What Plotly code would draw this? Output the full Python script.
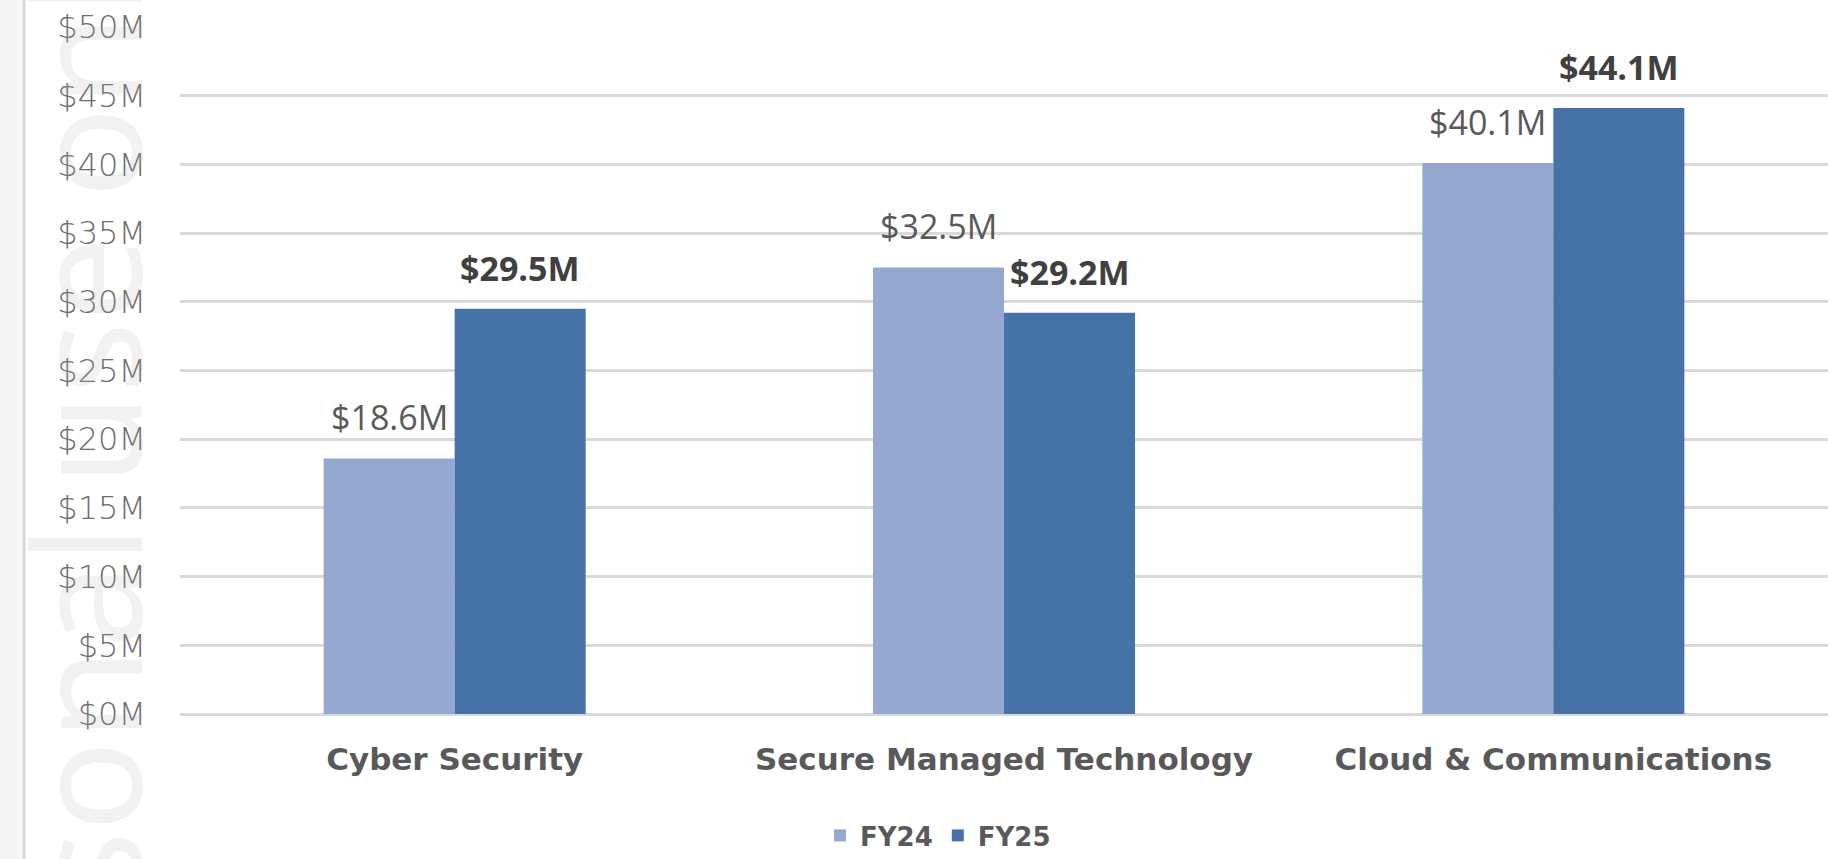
import plotly.graph_objects as go

# segment revenue, $M
categories = ["Cyber Security", "Secure Managed Technology", "Cloud & Communications"]
fy24 = [18.6, 32.5, 40.1]
fy25 = [29.5, 29.2, 44.1]
series_names = ["FY24", "FY25"]
y_ticks = [0, 5, 10, 15, 20, 25, 30, 35, 40, 45, 50]
y_tick_text = [f"${v}M" for v in y_ticks]

COL_FY24 = "#95a9d0"
COL_FY25 = "#4573a8"
GRID = "#d9d9d9"

W, H = 1828, 859
M_L, M_R, M_T, M_B = 180, 0, 27, 131
PLOT_W = W - M_L - M_R
BAR_HALF = 65.5  # half of one bar, px (used to centre labels above each bar)


def px_x(p):
    # pixel x -> paper x
    return (p - M_L) / PLOT_W


fig = go.Figure()

for name, vals, col in [(series_names[0], fy24, COL_FY24), (series_names[1], fy25, COL_FY25)]:
    fig.add_trace(go.Bar(
        x=categories,
        y=vals,
        name=name,
        marker=dict(color=col, line=dict(width=0)),
        hoverinfo="skip",
    ))

# value labels above bars: FY24 regular, FY25 bold
annotations = []
for cat, v in zip(categories, fy24):
    annotations.append(dict(
        x=cat, y=v, xref="x", yref="y", text=f"${v:.1f}M",
        showarrow=False, xshift=-BAR_HALF, yanchor="bottom", yshift=16,
        font=dict(family="Open Sans", size=34, color="#595959"),
    ))
for cat, v in zip(categories, fy25):
    annotations.append(dict(
        x=cat, y=v, xref="x", yref="y", text=f"<b>${v:.1f}M</b>",
        showarrow=False, xshift=BAR_HALF, yanchor="bottom", yshift=16,
        font=dict(family="Open Sans", size=34, color="#404040"),
    ))

# faint vertical watermark on the left edge
annotations.append(dict(
    x=px_x(84), y=0.085, xref="paper", yref="paper",
    text="For personal use only", textangle=-90, showarrow=False,
    xanchor="center", yanchor="middle",
    font=dict(family="Noto Sans", size=150, color="rgba(170,170,170,0.17)"),
))

fig.update_layout(
    width=W,
    height=H,
    margin=dict(l=M_L, r=M_R, t=M_T, b=M_B, pad=0),
    paper_bgcolor="white",
    plot_bgcolor="white",
    barmode="group",
    bargap=0.523,
    bargroupgap=0,
    showlegend=True,
    legend=dict(
        orientation="h",
        x=px_x(938), xanchor="center",
        y=-0.177, yanchor="middle",
        font=dict(family="DejaVu Sans", size=26, color="#595959", weight=700),
        itemwidth=30,
        bgcolor="rgba(0,0,0,0)",
    ),
    annotations=annotations,
    shapes=[
        dict(type="rect", xref="paper", yref="paper", layer="below",
             x0=px_x(0), x1=px_x(22), y0=-1, y1=2,
             fillcolor="#f5f5f5", line=dict(width=0)),
        dict(type="line", xref="paper", yref="paper", layer="below",
             x0=px_x(24), x1=px_x(24), y0=-1, y1=2,
             line=dict(color="#d6d6d6", width=3)),
    ],
    xaxis=dict(
        showgrid=False,
        showline=False,
        ticks="",
        automargin=False,
        ticklabelstandoff=24,
        tickfont=dict(family="DejaVu Sans", size=31, color="#595959", weight=700),
    ),
    yaxis=dict(
        range=[0, 50],
        tickvals=y_ticks,
        ticktext=y_tick_text,
        showgrid=True,
        gridcolor=GRID,
        gridwidth=3,
        zeroline=True,
        zerolinecolor=GRID,
        zerolinewidth=3,
        showline=False,
        ticks="",
        automargin=False,
        ticklabelstandoff=33,
        tickfont=dict(family="DejaVu Sans", size=32, color="#6e6e6e", weight=300),
    ),
)

# drop the default body margin so the figure sits flush in the window
fig.write_html(
    "out.html",
    config={"displayModeBar": False},
    post_script="document.body.style.margin='0';",
)
